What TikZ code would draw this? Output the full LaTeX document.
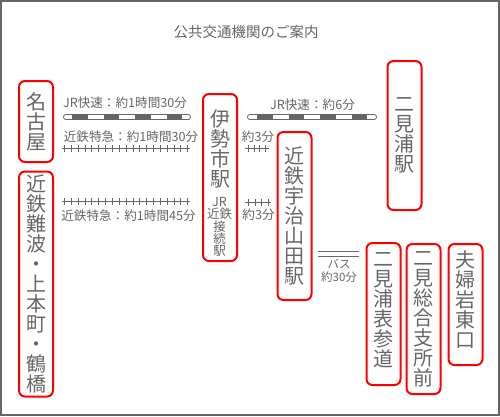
\documentclass[tikz,border=0pt]{standalone}
\usepackage{fontspec}
\newfontfamily\jp{Noto Sans CJK JP}
\definecolor{txt}{HTML}{666666}
\definecolor{boxred}{HTML}{FF0000}
\tikzset{
  station/.style={draw=boxred, line width=2pt, rounded corners=6pt, minimum width=34pt,
    inner sep=0pt, font=\jp\fontsize{20}{20}\selectfont, text=txt, align=center},
  stxt/.style={inner sep=0pt, font=\jp\fontsize{20}{20}\selectfont, text=txt, align=center},
  smalltxt/.style={inner sep=0pt, font=\jp\fontsize{12.5}{12.2}\selectfont, text=txt, align=center},
  lbl/.style={inner sep=0pt, font=\jp\fontsize{12.6}{11}\selectfont, text=txt, align=center},
  buslbl/.style={inner sep=0pt, font=\jp\fontsize{11.5}{12.5}\selectfont, text=txt, align=center},
  titletxt/.style={inner sep=0pt, font=\jp\fontsize{14.5}{15}\selectfont, text=txt},
  railout/.style={line width=6pt, draw=txt, line cap=round},
  railin/.style={line width=4pt, draw=white, line cap=round},
  raildash/.style={line width=4pt, draw=txt, line cap=butt, dash pattern=on 15.75pt off 15.75pt},
  tickline/.style={line width=1pt, draw=txt},
  tickmarks/.style={line width=7pt, draw=txt, line cap=butt},
  busline/.style={line width=1pt, draw=txt},
}
\newcommand\railline[4]{%
  \draw[railout] (#1) -- (#2);
  \draw[railin] (#1) -- (#2);
  \draw[raildash, shorten <=#3, shorten >=#4] (#1) -- (#2);}
\begin{document}
\begin{tikzpicture}[x=1pt,y=-1pt]
\useasboundingbox (0,0) rectangle (500,416);
\draw[draw=txt, line width=2pt] (1,1) rectangle (499,415);

\node[titletxt] (title) at (246,32) {公共交通機関のご案内};

% stations
\node[station, minimum height=81pt] (nagoya) at (36,121.5) {名\\古\\屋};
\node[station, minimum height=225pt] (namba) at (36,284) {近\\鉄\\難\\波\\・\\上\\本\\町\\・\\鶴\\橋};
\node[station, minimum height=167pt] (iseshi) at (220,177.5) {};
\node[stxt] (iseshiname) at (220,148.5) {伊\\勢\\市\\駅};
\node[smalltxt] (iseshinote) at (219.5,227) {JR\\近鉄\\接\\続\\駅};
\node[station, minimum height=149pt] (futamiura) at (404.5,135.5) {二\\見\\浦\\駅};
\node[station, minimum height=168pt] (ujiyamada) at (294.5,216) {近\\鉄\\宇\\治\\山\\田\\駅};
\node[station, minimum height=142pt] (omotesando) at (383.5,314) {};
\node[stxt] (omotesandoname) at (383.5,310) {二\\見\\浦\\表\\参\\道};
\node[station, minimum height=150pt] (sogoshisho) at (423.5,319) {二\\見\\総\\合\\支\\所\\前};
\node[station, minimum height=121pt] (meotoiwa) at (465.5,304.5) {};
\node[stxt] (meotoiwaname) at (465.5,300) {夫\\婦\\岩\\東\\口};

% JR lines
\coordinate (jr1a) at (66,117);
\coordinate (jr1b) at (188,117);
\coordinate (jr2a) at (250,117);
\coordinate (jr2b) at (374,117);
\railline{jr1a}{jr1b}{6pt}{6pt}
\railline{jr2a}{jr2b}{7pt}{6pt}

% Kintetsu lines
\coordinate (k1a) at (62,148);
\coordinate (k1b) at (190,148);
\coordinate (k2a) at (62,201);
\coordinate (k2b) at (190,201);
\coordinate (k3a) at (245,148);
\coordinate (k3b) at (269,148);
\coordinate (k4a) at (245,202);
\coordinate (k4b) at (271,202);
\draw[tickline] (k1a) -- (k1b);
\draw[tickmarks, dash pattern=on 1pt off 5.85pt, shorten <=2pt] (k1a) -- (k1b);
\draw[tickline] (k2a) -- (k2b);
\draw[tickmarks, dash pattern=on 1pt off 5.85pt, shorten <=2pt] (k2a) -- (k2b);
\draw[tickline] (k3a) -- (k3b);
\draw[tickmarks, dash pattern=on 1pt off 4.7pt, shorten <=3pt] (k3a) -- (k3b);
\draw[tickline] (k4a) -- (k4b);
\draw[tickmarks, dash pattern=on 1pt off 5.5pt, shorten <=3pt] (k4a) -- (k4b);

% bus
\coordinate (b1a) at (318,251.5);
\coordinate (b1b) at (359,251.5);
\coordinate (b2a) at (318,256);
\coordinate (b2b) at (359,256);
\draw[busline] (b1a) -- (b1b);
\draw[busline] (b2a) -- (b2b);

% labels
\node[lbl] (l1) at (125,103) {JR快速：約1時間30分};
\node[lbl] (l2) at (131,137) {近鉄特急：約1時間30分};
\node[lbl] (l3) at (128.5,216) {近鉄特急：約1時間45分};
\node[lbl] (l4) at (312.5,105) {JR快速：約6分};
\node[lbl] (l5) at (258,137) {約3分};
\node[lbl] (l6) at (258.5,215) {約3分};
\node[buslbl] (l7) at (339,271) {バス\\約30分};
\end{tikzpicture}
\end{document}
